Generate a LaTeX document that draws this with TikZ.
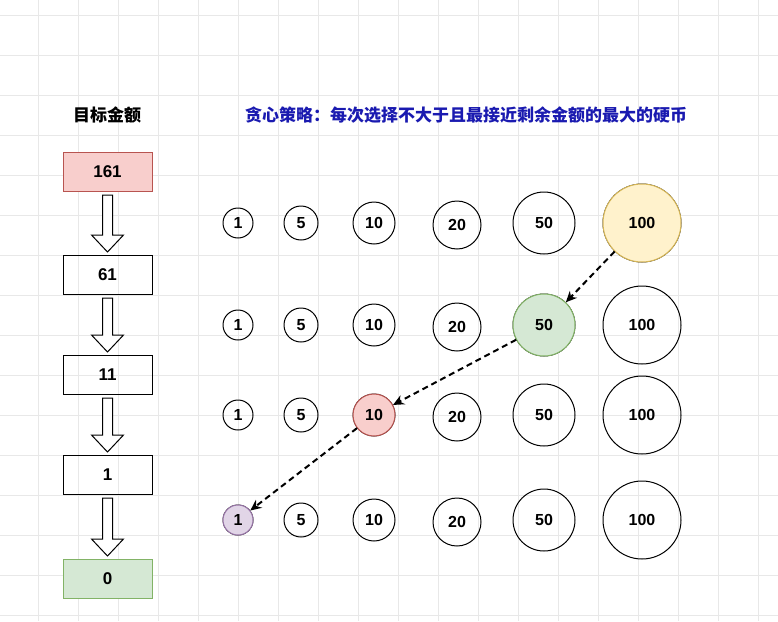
\documentclass[tikz,border=0pt]{standalone}
\usepackage{fontspec}
\setmainfont{Liberation Sans}
\newfontfamily\cjk{Noto Sans CJK SC}
\usetikzlibrary{arrows.meta, calc}
\definecolor{redfill}{HTML}{F8CECC}\definecolor{redline}{HTML}{B85450}
\definecolor{greenfill}{HTML}{D5E8D4}\definecolor{greenline}{HTML}{82B366}
\definecolor{yellowfill}{HTML}{FFF2CC}\definecolor{yellowline}{HTML}{D6B656}
\definecolor{purplefill}{HTML}{E1D5E7}\definecolor{purpleline}{HTML}{9673A6}
\definecolor{titleblue}{HTML}{1A1AB0}
\begin{document}
\begin{tikzpicture}[
  x=1pt, y=-1pt,
  amount/.style={
    rectangle, draw, line width=1pt, minimum width=89pt, minimum height=39pt,
    font=\bfseries\fontsize{17}{17}\selectfont
  },
  coin/.style={circle, draw, line width=1pt, inner sep=0pt, font=\bfseries\fontsize{16}{16}\selectfont},
  down/.style={draw, fill=white, line width=1pt},
  pick/.style={-{Stealth[length=11pt,width=10pt]}, line width=2pt, dash pattern=on 6pt off 4pt}
]
  \useasboundingbox (0,0) rectangle (778,621);
  % grid
  \foreach \gx in {38,78,...,778} \draw[black!9] (\gx,0) -- (\gx,621);
  \foreach \gy in {15,55,...,621} \draw[black!9] (0,\gy) -- (778,\gy);

  % titles
  \node[font=\cjk\bfseries\fontsize{17}{17}\selectfont] (t1) at (107,115) {目标金额};
  \node[font=\cjk\bfseries\fontsize{17}{17}\selectfont, text=titleblue] (t2) at (466,115)
    {贪心策略：每次选择不大于且最接近剩余金额的最大的硬币};

  % amounts
  \node[amount, fill=redfill, draw=redline] (a1) at (107.5,172) {161};
  \node[amount] (a2) at (107.5,275) {61};
  \node[amount] (a3) at (107.5,375) {11};
  \node[amount] (a4) at (107.5,475) {1};
  \node[amount, fill=greenfill, draw=greenline] (a5) at (107.5,579) {0};
  \foreach \u/\v in {a1/a2,a2/a3,a3/a4,a4/a5}
    \draw[down] ($(\u.south)+(-5,3)$) -- ($(\v.north)+(-5,-20)$) -- ($(\v.north)+(-16,-20)$)
      -- ($(\v.north)+(0,-3)$) -- ($(\v.north)+(16,-20)$) -- ($(\v.north)+(5,-20)$)
      -- ($(\u.south)+(5,3)$) -- cycle;

  % coins
  \foreach \r/\ry in {1/223,2/325,3/415,4/520} {
    \node[coin, minimum size=30pt] (c\r-1) at (238,\ry) {1};
    \node[coin, minimum size=34pt] (c\r-5) at (301,\ry) {5};
    \node[coin, minimum size=42pt] (c\r-10) at (374,\ry) {10};
    \node[coin, minimum size=48pt] (c\r-20) at (457,\ry+2) {20};
    \node[coin, minimum size=62pt] (c\r-50) at (544,\ry) {50};
    \node[coin, minimum size=78pt] (c\r-100) at (642,\ry) {100};
  }
  \node[coin, minimum size=78pt, fill=yellowfill, draw=yellowline] at (c1-100) {100};
  \node[coin, minimum size=62pt, fill=greenfill, draw=greenline] at (c2-50) {50};
  \node[coin, minimum size=42pt, fill=redfill, draw=redline] at (c3-10) {10};
  \node[coin, minimum size=30pt, fill=purplefill, draw=purpleline] at (c4-1) {1};

  % choices
  \draw[pick] (c1-100) -- (c2-50);
  \draw[pick] (c2-50) -- (c3-10);
  \draw[pick] (c3-10) -- (c4-1);
\end{tikzpicture}
\end{document}
